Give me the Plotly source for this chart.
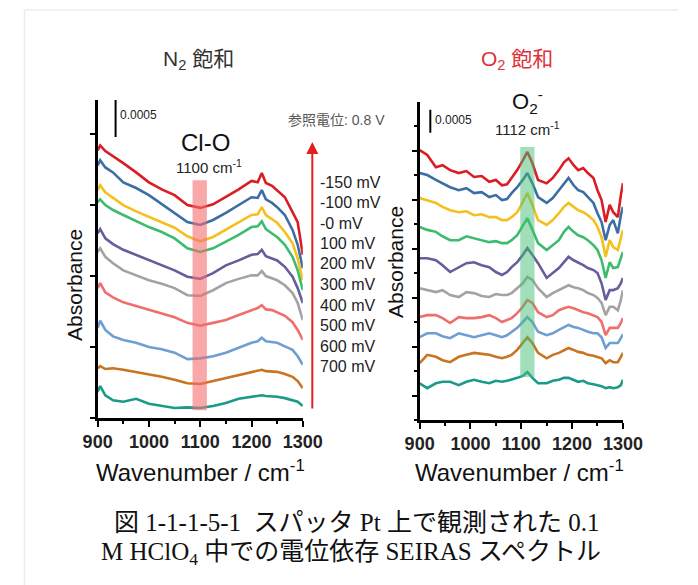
import plotly.graph_objects as go

# ---------------------------------------------------------------
# Potential-dependent SEIRAS spectra (offset traces), absorbance in 1e-4 units
# ---------------------------------------------------------------
potential_labels = ["-150 mV", "-100 mV", "-0 mV", "100 mV", "200 mV",
                    "300 mV", "400 mV", "500 mV", "600 mV", "700 mV"]
trace_colors = ["#dc1c24", "#3b6ea5", "#f4c01e", "#3cbc6c", "#675c9c",
                "#a3a3a3", "#ef6f6c", "#6f9fd2", "#c87420", "#1b9a8a"]

# N2-saturated electrolyte
n2_wavenumber = [900, 905, 915, 930, 950, 975, 1000, 1025, 1050, 1075, 1100, 1125,
                 1150, 1175, 1200, 1212, 1220, 1228, 1240, 1250, 1265, 1280, 1290, 1300]
n2_m150 = [37.7, 38.4, 37.6, 36.9, 35.9, 34.6, 33.2, 32.2, 31.4, 30.0, 29.6, 30.1,
           31.1, 32.2, 33.4, 33.2, 34.5, 33.1, 32.7, 32.1, 31.1, 29.0, 27.6, 23.0]
n2_m100 = [35.6, 36.3, 35.3, 34.6, 33.2, 32.4, 31.4, 30.1, 28.9, 27.6, 27.2, 27.9,
           28.9, 30.0, 31.1, 31.0, 32.1, 30.8, 30.3, 29.7, 28.6, 26.5, 24.4, 21.1]
n2_m0 = [32.1, 32.8, 31.8, 31.0, 30.0, 29.1, 28.3, 27.6, 26.8, 25.6, 24.9, 25.5,
         26.5, 27.6, 28.6, 28.7, 29.7, 28.6, 28.0, 27.5, 26.2, 24.6, 22.5, 19.4]
n2_p100 = [30.4, 30.8, 30.0, 29.3, 28.6, 27.7, 26.9, 26.2, 25.3, 23.9, 23.4, 23.9,
           24.8, 25.8, 26.9, 27.0, 27.7, 26.6, 26.0, 25.5, 24.4, 22.7, 20.8, 18.0]
n2_p200 = [26.0, 26.6, 25.3, 24.5, 23.7, 23.0, 22.2, 21.5, 20.8, 19.9, 19.6, 20.4,
           21.5, 22.2, 23.0, 23.1, 23.7, 22.8, 22.5, 22.2, 21.3, 19.9, 18.3, 16.2]
n2_p300 = [23.4, 23.9, 22.7, 21.8, 20.8, 20.1, 19.4, 18.9, 18.3, 17.3, 17.2, 18.0,
           19.0, 19.6, 20.1, 20.1, 20.7, 20.0, 19.7, 19.4, 18.7, 17.6, 16.2, 13.8]
n2_p400 = [18.3, 19.0, 17.7, 17.0, 16.3, 15.8, 15.2, 14.8, 14.2, 13.4, 13.0, 13.4,
           13.8, 14.5, 15.2, 15.5, 15.9, 15.3, 15.2, 14.9, 14.4, 13.5, 12.4, 11.0]
n2_p500 = [12.7, 13.7, 12.4, 11.5, 11.0, 10.6, 10.0, 9.7, 9.2, 8.3, 8.4, 8.7,
           9.2, 9.9, 10.6, 10.8, 11.3, 10.8, 10.7, 10.6, 10.1, 9.6, 8.7, 7.5]
n2_p600 = [7.0, 7.3, 6.9, 7.0, 6.8, 6.5, 6.1, 5.8, 5.4, 4.9, 4.8, 5.2,
           5.6, 6.1, 6.5, 6.6, 6.8, 6.6, 6.6, 6.5, 6.2, 5.8, 5.2, 4.2]
n2_p700 = [3.7, 4.5, 3.2, 2.5, 2.3, 2.7, 2.0, 1.7, 1.4, 1.5, 1.4, 1.7,
           2.1, 2.7, 3.0, 3.1, 3.2, 3.1, 3.1, 3.0, 2.8, 2.5, 2.3, 1.7]

# O2-saturated electrolyte
o2_wavenumber = [900, 915, 932, 945, 960, 977, 992, 1007, 1022, 1037, 1050, 1062, 1072,
                 1081, 1092, 1103, 1112, 1122, 1133, 1150, 1162, 1174, 1184, 1193, 1203,
                 1212, 1222, 1231, 1242, 1250, 1258, 1266, 1274, 1281, 1290, 1296, 1300]
o2_m150 = [55.1, 54.1, 51.6, 52.0, 51.0, 50.4, 50.8, 49.6, 49.8, 48.6, 49.0, 47.9, 48.1,
           49.4, 51.0, 53.0, 54.7, 52.4, 49.0, 48.3, 49.4, 51.0, 52.6, 53.4, 52.0,
           51.0, 51.4, 50.4, 49.4, 46.9, 44.9, 40.4, 43.9, 42.4, 41.4, 45.9, 48.3]
o2_m100 = [50.4, 50.0, 49.0, 48.3, 47.5, 46.9, 47.3, 46.3, 46.5, 45.5, 45.9, 44.9, 45.1,
           46.3, 47.5, 49.0, 50.4, 48.3, 45.5, 44.3, 45.3, 46.9, 48.3, 49.4, 47.9,
           46.9, 46.5, 45.5, 44.3, 42.2, 40.4, 36.7, 39.8, 40.8, 38.1, 41.8, 43.5]
o2_m0 = [45.3, 44.9, 44.3, 43.5, 42.8, 42.4, 42.6, 41.8, 42.0, 41.4, 41.4, 40.8, 40.8,
         41.4, 42.4, 44.5, 46.3, 43.9, 40.8, 39.8, 40.8, 42.2, 43.5, 44.3, 43.5,
         42.8, 42.4, 41.8, 40.8, 39.4, 37.3, 33.3, 36.7, 35.3, 34.7, 37.3, 38.8]
o2_p100 = [39.4, 38.8, 38.4, 37.5, 36.7, 36.7, 37.5, 37.1, 36.7, 36.3, 36.5, 36.1, 36.1,
           36.7, 37.7, 39.8, 41.2, 38.8, 36.1, 34.7, 35.7, 36.7, 38.4, 39.4, 38.4,
           37.7, 37.3, 36.7, 35.7, 34.7, 32.6, 29.0, 32.2, 31.0, 31.2, 33.0, 34.3]
o2_p200 = [33.0, 33.0, 32.6, 31.6, 30.2, 31.2, 32.0, 32.2, 31.6, 31.2, 30.2, 29.6, 30.2,
           31.2, 32.2, 33.7, 35.1, 33.7, 32.0, 29.0, 30.0, 31.0, 32.2, 33.3, 32.6,
           32.2, 31.6, 31.0, 30.6, 30.0, 27.9, 24.5, 26.5, 26.5, 26.9, 27.9, 29.0]
o2_p300 = [26.9, 26.5, 26.1, 26.5, 25.5, 25.1, 26.1, 25.9, 25.3, 25.1, 25.7, 25.5, 25.5,
           25.9, 26.9, 27.9, 29.2, 28.6, 26.9, 25.1, 25.9, 26.5, 27.1, 27.5, 27.1,
           26.9, 26.5, 25.9, 25.5, 24.9, 23.9, 21.4, 23.1, 23.1, 22.4, 24.5, 26.5]
o2_p400 = [21.0, 21.4, 21.4, 20.8, 19.8, 21.0, 20.8, 20.8, 21.0, 21.4, 20.8, 20.0, 20.4,
           20.8, 21.8, 23.1, 24.5, 23.9, 22.0, 21.0, 21.4, 22.4, 22.8, 23.1, 22.8,
           22.4, 22.0, 21.8, 21.4, 21.0, 20.0, 17.3, 18.8, 18.8, 18.8, 19.8, 20.8]
o2_p500 = [16.9, 17.7, 17.7, 17.1, 16.7, 17.7, 17.3, 16.9, 17.3, 17.7, 17.3, 16.9, 17.3,
           18.0, 18.8, 20.0, 21.0, 20.0, 18.0, 17.3, 17.7, 18.4, 19.0, 19.4, 19.0,
           18.8, 18.4, 18.0, 17.7, 17.7, 16.9, 14.7, 15.7, 15.7, 15.7, 16.7, 17.5]
o2_p600 = [11.6, 13.3, 12.9, 12.2, 11.8, 12.9, 13.3, 13.7, 13.5, 13.3, 12.9, 12.6, 12.9,
           13.3, 14.3, 15.7, 16.9, 15.7, 13.7, 12.6, 13.3, 13.7, 14.3, 14.7, 14.3,
           13.9, 13.7, 13.3, 13.1, 12.9, 12.6, 11.6, 12.2, 11.8, 11.8, 12.9, 13.7]
o2_p700 = [7.5, 6.5, 7.5, 7.8, 7.8, 7.1, 7.8, 8.2, 7.8, 7.5, 8.0, 7.8, 8.0,
           8.2, 8.6, 9.0, 9.8, 8.6, 7.5, 7.5, 8.0, 8.2, 8.6, 8.6, 8.2,
           7.8, 8.0, 7.5, 7.3, 7.1, 6.9, 6.5, 6.7, 6.5, 6.7, 7.1, 8.2]

n2_series = [n2_m150, n2_m100, n2_m0, n2_p100, n2_p200,
             n2_p300, n2_p400, n2_p500, n2_p600, n2_p700]
o2_series = [o2_m150, o2_m100, o2_m0, o2_p100, o2_p200,
             o2_p300, o2_p400, o2_p500, o2_p600, o2_p700]

x_ticks = [900, 1000, 1100, 1200, 1300]

# ---------------------------------------------------------------
W, H = 698, 585
SANS = "Liberation Sans, Arial, sans-serif"
CJK = "Liberation Sans, Noto Sans CJK JP, sans-serif"
SERIF = "Liberation Serif, Noto Sans CJK JP, serif"


def px(x):
    return x / W


def py(y):
    return 1 - y / H


fig = go.Figure()

for label, color, ys in zip(potential_labels, trace_colors, n2_series):
    fig.add_trace(go.Scatter(x=n2_wavenumber, y=ys, mode="lines", name=label,
                             line=dict(color=color, width=2.6),
                             xaxis="x", yaxis="y", showlegend=False))
for label, color, ys in zip(potential_labels, trace_colors, o2_series):
    fig.add_trace(go.Scatter(x=o2_wavenumber, y=ys, mode="lines", name=label,
                             line=dict(color=color, width=2.6),
                             xaxis="x2", yaxis="y2", showlegend=False))

xaxis_common = dict(range=[900, 1300], tickvals=x_ticks, ticks="outside",
                    ticklen=6, tickwidth=2, tickcolor="black",
                    showline=True, linecolor="black", linewidth=2.5,
                    showgrid=False, zeroline=False,
                    tickfont=dict(family=SANS, size=18, color="#222", weight="bold"),
                    minor=dict(dtick=50, tick0=900, ticks="outside", ticklen=3,
                               tickwidth=1.5, tickcolor="black", showgrid=False))

fig.update_layout(
    width=W, height=H,
    margin=dict(l=0, r=0, t=0, b=0),
    paper_bgcolor="white", plot_bgcolor="white",
    xaxis=dict(domain=[px(87), px(303)], anchor="y", **xaxis_common),
    yaxis=dict(domain=[py(418), py(100)], anchor="x", range=[0, 44.8],
               tick0=0, dtick=10, ticks="outside", ticklen=5, tickwidth=2,
               tickcolor="black", showticklabels=False, showline=True,
               linecolor="black", linewidth=2.5, showgrid=False, zeroline=False),
    xaxis2=dict(domain=[px(426), px(640)], anchor="y2", **xaxis_common),
    yaxis2=dict(domain=[py(420), py(102)], anchor="x2", range=[0, 64.9],
                tick0=5, dtick=10, ticks="outside", ticklen=5, tickwidth=2,
                tickcolor="black", showticklabels=False, showline=True,
                linecolor="black", linewidth=2.5, showgrid=False, zeroline=False,
                minor=dict(dtick=5, tick0=0, ticks="outside", ticklen=3,
                           tickwidth=1.5, tickcolor="black", showgrid=False)),
)

shapes = [
    # faint frame along the top and left edges
    dict(type="line", xref="paper", yref="paper", x0=px(10), x1=1, y0=py(10), y1=py(10),
         line=dict(color="#ececec", width=1.5)),
    dict(type="line", xref="paper", yref="paper", x0=px(10), x1=px(10), y0=py(585), y1=py(10),
         line=dict(color="#ececec", width=1.5)),
    # Cl-O band
    dict(type="rect", xref="x", yref="y", x0=1085, x1=1113, y0=1.1, y1=33.5,
         fillcolor="rgba(244,110,110,0.6)", line=dict(width=0), layer="above"),
    # superoxide band
    dict(type="rect", xref="x2", yref="y2", x0=1098, x1=1126, y0=8.8, y1=55.7,
         fillcolor="rgba(70,190,115,0.5)", line=dict(width=0), layer="above"),
    # 0.0005 scale bars
    dict(type="line", xref="x", yref="y", x0=935, x1=935, y0=39.6, y1=45.0,
         line=dict(color="black", width=2)),
    dict(type="line", xref="x2", yref="y2", x0=921, x1=921, y0=58.6, y1=63.3,
         line=dict(color="black", width=2)),
]
fig.update_layout(shapes=shapes)

ann = []


def text(x, y, s, size, color="#111", family=SANS, xanchor="center", angle=0):
    ann.append(dict(x=px(x), y=py(y), xref="paper", yref="paper", text=s,
                    showarrow=False, xanchor=xanchor, yanchor="middle",
                    textangle=angle, font=dict(family=family, size=size, color=color)))


# panel titles
text(193, 60, "N<sub>2</sub> 飽和", 21, "#333", CJK)
text(528, 60, "O<sub>2</sub> 飽和", 21, "#e0303a", CJK)

# band labels
text(201, 142, "Cl-O", 24, "#111")
text(204, 166, "1100 cm<sup>-1</sup>", 15, "#222")
text(540, 101, "O<sub>2</sub><sup>-</sup>", 22, "#111")
text(540, 128, "1112 cm<sup>-1</sup>", 15, "#222")

# scale bar labels
text(108, 115, "0.0005", 12, "#222", xanchor="left")
text(440, 120, "0.0005", 12, "#222", xanchor="left")

# reference potential note and potential labels
text(338, 120, "参照電位: 0.8 V", 14, "#555", CJK)
for i, label in enumerate(potential_labels):
    text(319, 182 + 20.5 * i, label, 16, "#222", xanchor="left")

# axis titles
text(62, 285, "Absorbance", 21, "#111", angle=-90)
text(400, 262, "Absorbance", 21, "#111", angle=-90)
text(195, 471, "Wavenumber / cm<sup>-1</sup>", 24, "#111")
text(531, 471, "Wavenumber / cm<sup>-1</sup>", 24, "#111")

# caption
text(360, 522, "図 1-1-1-5-1  スパッタ Pt 上で観測された 0.1", 25, "#111", SERIF)
text(354, 553, "M HClO<sub>4</sub> 中での電位依存 SEIRAS スペクトル", 25, "#111", SERIF)

# potential sweep arrow (tail 268 px below the head)
ann.append(dict(x=px(313), y=py(142), ax=0, ay=268, xref="paper", yref="paper",
                axref="pixel", ayref="pixel", text="", showarrow=True,
                arrowhead=2, arrowsize=1.2, arrowwidth=2, arrowcolor="#e02020"))

fig.update_layout(annotations=ann)

fig.write_html("out.html")
